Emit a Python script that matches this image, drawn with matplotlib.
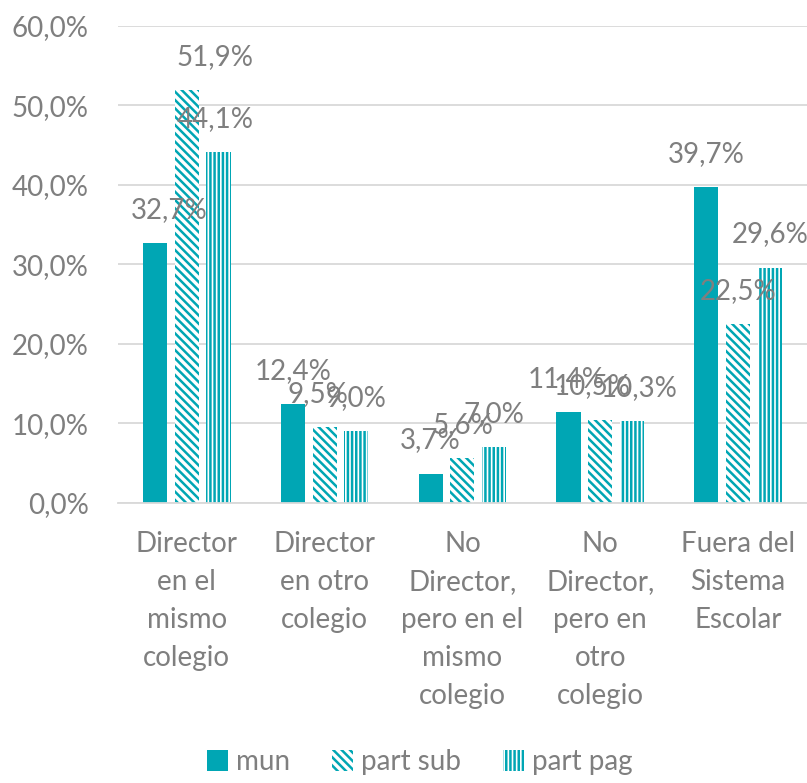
import numpy as np
import matplotlib.pyplot as plt

plt.rcParams['font.family'] = ['Lato', 'DejaVu Sans']
plt.rcParams['hatch.linewidth'] = 1.8

# data
categorias = ["Director\nen el\nmismo\ncolegio", "Director\nen otro\ncolegio",
              "No\nDirector,\npero en el\nmismo\ncolegio",
              "No\nDirector,\npero en\notro\ncolegio",
              "Fuera del\nSistema\nEscolar"]
mun = [32.7, 12.4, 3.7, 11.4, 39.7]
part_sub = [51.9, 9.5, 5.6, 10.5, 22.5]
part_pag = [44.1, 9.0, 7.0, 10.3, 29.6]
series = ["mun", "part sub", "part pag"]
# small horizontal shifts of the data labels (points), as in the original
dx_labels = [[10, 0, 0, -2, 0], [20, -5, 0, -6, 0], [-2, 0, 0, 5, 0]]

teal = "#00A6B4"
gris = "#7f7f7f"

fig = plt.figure(figsize=(8.07, 7.83), dpi=100)
ax = fig.add_axes([0.146, 0.3576, 0.854, 0.6092])

x = np.arange(len(categorias))
w = 0.175
sep = 0.23
hatches = [None, "\\\\\\\\", "||||"]
for i, vals in enumerate([mun, part_sub, part_pag]):
    pos = x + (i - 1) * sep
    if hatches[i] is None:
        bars = ax.bar(pos, vals, w, color=teal, label=series[i])
    else:
        bars = ax.bar(pos, vals, w, facecolor="white", edgecolor=teal,
                      linewidth=0, hatch=hatches[i], label=series[i])
    for j, b in enumerate(bars):
        ax.annotate(f"{vals[j]:.1f}%".replace(".", ","),
                    (b.get_x() + b.get_width() / 2, b.get_height()),
                    xytext=(dx_labels[i][j], 24), textcoords="offset points",
                    ha="center", va="center", fontsize=20, color=gris)

ax.set_ylim(0, 60)
ax.set_xlim(-0.5, 4.5)
ax.set_yticks(np.arange(0, 61, 10))
ax.set_yticklabels([f"{v:.1f}%".replace(".", ",") for v in np.arange(0, 61, 10)])
ax.set_xticks(x)
ax.set_xticklabels(categorias, linespacing=1.57, va="top")
ax.tick_params(axis="both", length=0, labelsize=20, labelcolor=gris)
ax.tick_params(axis="x", pad=20)
ax.tick_params(axis="y", pad=21)
ax.grid(axis="y", color="#d9d9d9", linewidth=1.3)
ax.set_axisbelow(True)
for s in ["top", "right", "left"]:
    ax.spines[s].set_visible(False)
ax.spines["bottom"].set_color("#d9d9d9")
ax.spines["bottom"].set_linewidth(1.3)

fig.legend(loc="lower center", bbox_to_anchor=(0.52, -0.022), ncol=3,
           frameon=False, fontsize=20, labelcolor=gris, handlelength=0.75,
           handleheight=0.75, handletextpad=0.3, columnspacing=1.5)

fig.savefig("out.png", dpi=100)
